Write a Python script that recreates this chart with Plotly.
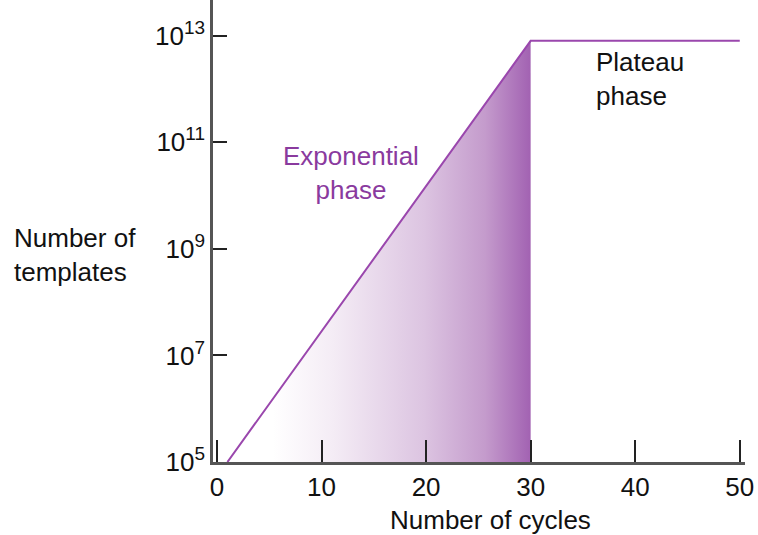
import plotly.graph_objects as go

# PCR amplification: template count versus thermal cycle number
cycles = [1, 30, 50]
templates = [1e5, 8e12, 8e12]

# region shaded under the exponential rise
shade_x = [cycles[0], cycles[1], cycles[1]]
shade_y = [templates[0], templates[1], templates[0]]

y_tick_vals = [1e5, 1e7, 1e9, 1e11, 1e13]
y_exponents = ["5", "7", "9", "11", "13"]
x_tick_vals = [0, 10, 20, 30, 40, 50]

y_tick_text = ["10<sup><span style='font-size:19px'>%s</span></sup>" % e
               for e in y_exponents]

FONT = "Liberation Sans, Arial, Helvetica, sans-serif"
PURPLE = "#9a47ad"
AXIS = "#555555"
TICK = "#222222"

fig = go.Figure()

fig.add_trace(go.Scatter(
    x=shade_x, y=shade_y, mode="none", fill="toself",
    fillgradient=dict(
        type="horizontal",
        colorscale=[[0.0, "#ffffff"], [0.15, "#ffffff"], [0.35, "#f4ecf5"],
                    [0.65, "#dcc4e1"], [0.85, "#c49bcc"], [1.0, "#a262b2"]],
    ),
    hoverinfo="skip", showlegend=False,
))

fig.add_trace(go.Scatter(
    x=cycles, y=templates, mode="lines",
    line=dict(color=PURPLE, width=2),
    showlegend=False,
))

fig.update_xaxes(
    range=[-0.38, 50.5], tickvals=x_tick_vals,
    ticks="inside", ticklen=22, tickwidth=1.6, tickcolor=TICK,
    showline=True, linecolor=AXIS, linewidth=2.5,
    showgrid=False, zeroline=False,
    tickfont=dict(family=FONT, size=26, color="#111111"),
)
fig.update_yaxes(
    type="log", range=[5, 13.67], tickvals=y_tick_vals, ticktext=y_tick_text,
    ticks="inside", ticklen=14, tickwidth=1.6, tickcolor=TICK,
    showline=True, linecolor=AXIS, linewidth=2.5,
    showgrid=False, zeroline=False,
    tickfont=dict(family=FONT, size=26, color="#111111"),
)

annotations = [
    dict(x=12.8, y=10.42, xref="x", yref="y", text="Exponential<br>phase",
         showarrow=False, align="center", xanchor="center", yanchor="middle",
         font=dict(family=FONT, size=26, color="#8a3a9e")),
    dict(x=36.1, y=12.19, xref="x", yref="y", text="Plateau<br>phase",
         showarrow=False, align="left", xanchor="left", yanchor="middle",
         font=dict(family=FONT, size=26, color="#111111")),
    dict(x=-201 / 532, y=0.448, xref="paper", yref="paper",
         text="Number of<br>templates",
         showarrow=False, align="left", xanchor="left", yanchor="middle",
         font=dict(family=FONT, size=26, color="#111111")),
    dict(x=0.521, y=-0.1255, xref="paper", yref="paper", text="Number of cycles",
         showarrow=False, xanchor="center", yanchor="middle",
         font=dict(family=FONT, size=26, color="#111111")),
]

fig.update_layout(
    width=758, height=535,
    margin=dict(l=213, r=13, t=0, b=73),
    paper_bgcolor="white", plot_bgcolor="white",
    annotations=annotations,
)

fig.write_html("out.html")
